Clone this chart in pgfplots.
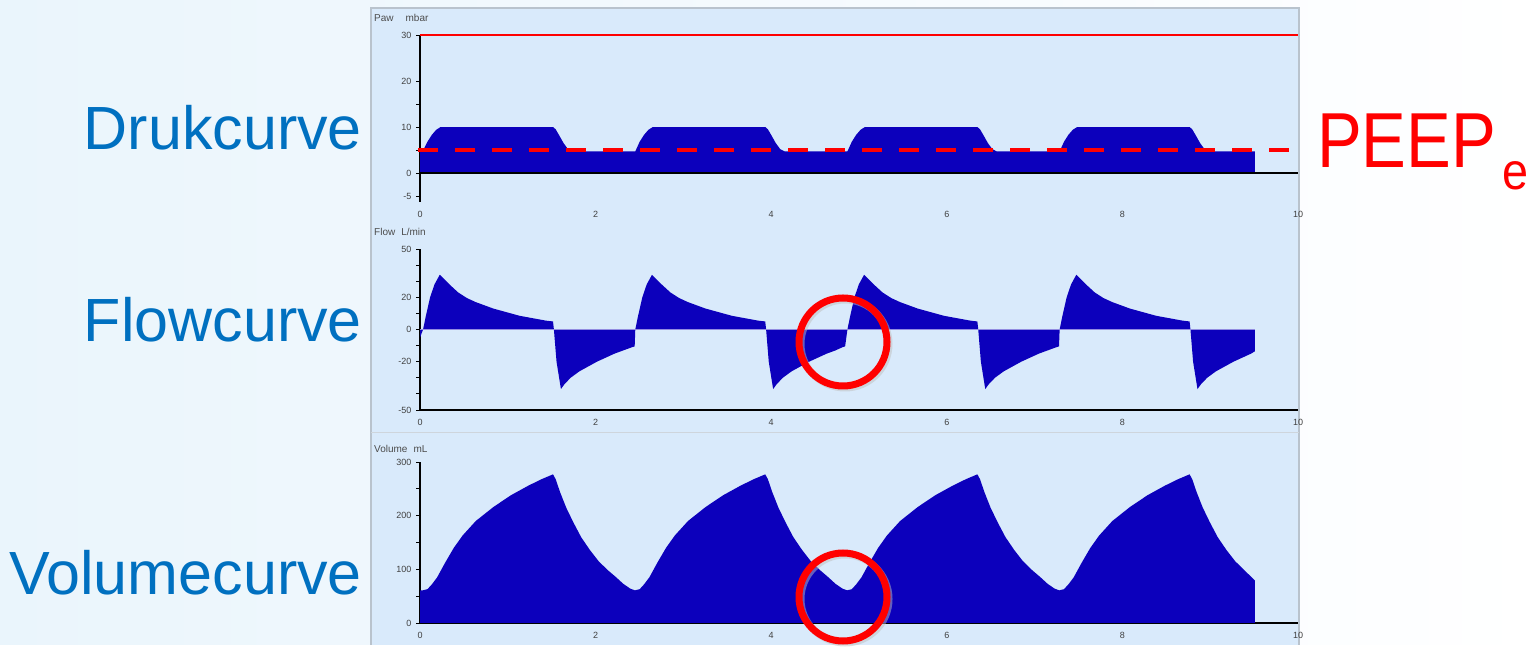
\documentclass[border=0pt]{standalone}
\usepackage{pgfplots}
\pgfplotsset{compat=1.18}
\usepackage{fontspec}
\setmainfont{Liberation Sans}
\definecolor{wave}{RGB}{12,0,188}
\definecolor{panel}{RGB}{217,234,251}
\definecolor{lbl}{RGB}{0,112,192}
\definecolor{bgl}{RGB}{234,245,252}
\definecolor{bdr}{RGB}{185,195,205}

\pgfplotstableread{
t p
0 4.8
0.035 4.9
0.085 6.8
0.135 8.3
0.185 9.4
0.235 10.0
1.515 10.0
1.545 9.5
1.585 8.2
1.635 6.5
1.685 5.2
1.735 4.7
2.452 4.7
2.502 6.8
2.552 8.3
2.602 9.4
2.652 10.0
3.932 10.0
3.962 9.5
4.002 8.2
4.052 6.5
4.102 5.2
4.152 4.7
4.868 4.7
4.918 6.8
4.968 8.3
5.018 9.4
5.068 10.0
6.348 10.0
6.378 9.5
6.418 8.2
6.468 6.5
6.518 5.2
6.568 4.7
7.285 4.7
7.335 6.8
7.385 8.3
7.435 9.4
7.485 10.0
8.765 10.0
8.795 9.5
8.835 8.2
8.885 6.5
8.935 5.2
8.985 4.7
9.510 4.7
}\pressure

\pgfplotstableread{
t f
0 -5
0.035 0
0.065 8
0.115 20
0.165 28
0.225 34
0.335 28
0.435 23
0.535 19.5
0.635 17
0.735 15
0.835 13
0.935 11.5
1.035 10
1.135 8.5
1.235 7.5
1.335 6.5
1.435 5.5
1.515 5
1.525 0
1.555 -20
1.605 -37
1.645 -34
1.715 -30
1.815 -26
1.915 -23
2.015 -20
2.115 -17.5
2.215 -15
2.315 -13
2.415 -11
2.445 -10.5
2.452 0
2.482 8
2.532 20
2.582 28
2.642 34
2.752 28
2.852 23
2.952 19.5
3.052 17
3.152 15
3.252 13
3.352 11.5
3.452 10
3.552 8.5
3.652 7.5
3.752 6.5
3.852 5.5
3.932 5
3.942 0
3.972 -20
4.022 -37
4.062 -34
4.132 -30
4.232 -26
4.332 -23
4.432 -20
4.532 -17.5
4.632 -15
4.732 -13
4.812 -11
4.842 -10.5
4.868 0
4.898 8
4.948 20
4.998 28
5.058 34
5.168 28
5.268 23
5.368 19.5
5.468 17
5.568 15
5.668 13
5.768 11.5
5.868 10
5.968 8.5
6.068 7.5
6.168 6.5
6.268 5.5
6.348 5
6.358 0
6.388 -20
6.438 -37
6.478 -34
6.548 -30
6.648 -26
6.748 -23
6.848 -20
6.948 -17.5
7.048 -15
7.148 -13
7.248 -11
7.278 -10.5
7.285 0
7.315 8
7.365 20
7.415 28
7.475 34
7.585 28
7.685 23
7.785 19.5
7.885 17
7.985 15
8.085 13
8.185 11.5
8.285 10
8.385 8.5
8.485 7.5
8.585 6.5
8.685 5.5
8.765 5
8.775 0
8.805 -20
8.855 -37
8.895 -34
8.965 -30
9.065 -26
9.165 -23
9.265 -20
9.365 -17.5
9.465 -15
9.510 -13.5
}\flow

\pgfplotstableread{
t v
0 61
0.035 61
0.085 63
0.135 72
0.195 85
0.285 112
0.385 140
0.485 163
0.635 190
0.835 216
1.035 238
1.235 256
1.385 268
1.515 277
1.545 268
1.595 244
1.665 215
1.745 188
1.835 160
1.935 136
2.035 115
2.135 99
2.235 85
2.315 73
2.395 64
2.445 61
2.452 61
2.502 63
2.552 72
2.612 85
2.702 112
2.802 140
2.902 163
3.052 190
3.252 216
3.452 238
3.652 256
3.802 268
3.932 277
3.962 268
4.012 244
4.082 215
4.162 188
4.252 160
4.352 136
4.452 115
4.552 99
4.652 85
4.732 73
4.812 64
4.862 61
4.868 61
4.918 63
4.968 72
5.028 85
5.118 112
5.218 140
5.318 163
5.468 190
5.668 216
5.868 238
6.068 256
6.218 268
6.348 277
6.378 268
6.428 244
6.498 215
6.578 188
6.668 160
6.768 136
6.868 115
6.968 99
7.068 85
7.148 73
7.228 64
7.278 61
7.285 61
7.335 63
7.385 72
7.445 85
7.535 112
7.635 140
7.735 163
7.885 190
8.085 216
8.285 238
8.485 256
8.635 268
8.765 277
8.795 268
8.845 244
8.915 215
8.995 188
9.085 160
9.185 136
9.285 115
9.385 99
9.510 79
}\volume

\pgfplotsset{
  vent/.style={
    scale only axis, width=878pt,
    xmin=0, xmax=10,
    xtick={0,2,4,6,8,10},
    axis lines*=left,
    axis line style={black, line width=1.6pt},
    xtick style={draw=none},
    ytick style={black, line width=0.8pt},
    tick align=outside,
    major tick length=4pt,
    tick label style={font=\fontsize{9}{10}\selectfont, text=black!75},
    /pgf/number format/assume math mode=true,
    xticklabel style={yshift=-2pt},
    yticklabel style={xshift=-1pt},
    clip=false,
  }
}

\begin{document}
\begin{tikzpicture}[x=1pt,y=1pt]
\shade[left color=bgl, right color=white] (0,0) rectangle (1538,645);
\fill[panel] (370,0) rectangle (1299,637);
\draw[bdr, line width=1.5pt] (371,0) -- (371,637) -- (1299,637) -- (1299,0);
\draw[bdr!70, line width=0.8pt] (371,213) -- (1299,213);

% left labels
\node[anchor=base east, text=lbl, font=\fontsize{61}{70}\selectfont, inner sep=0pt] at (362,495) {Drukcurve};
\node[anchor=base east, text=lbl, font=\fontsize{61}{70}\selectfont, inner sep=0pt] at (362,303) {Flowcurve};
\node[anchor=base east, text=lbl, font=\fontsize{61}{70}\selectfont, inner sep=0pt] at (362,50) {Volumecurve};

% panel titles
\node[anchor=west, text=black!70, font=\fontsize{10}{12}\selectfont, inner sep=0pt] at (374,627) {Paw\hspace{1.2em}mbar};
\node[anchor=west, text=black!70, font=\fontsize{10}{12}\selectfont, inner sep=0pt] at (374,413) {Flow\hspace{0.6em}L/min};
\node[anchor=west, text=black!70, font=\fontsize{10}{12}\selectfont, inner sep=0pt] at (374,196) {Volume\hspace{0.6em}mL};

% pressure
\begin{axis}[vent, at={(420pt,443pt)}, anchor=south west, height=167pt,
  ymin=-6.3, ymax=30,
  ytick={-5,0,5,10,15,20,30}, yticklabels={-5,0,,10,,20,30},
  x axis line style={draw=none}]
\addplot[fill=wave, draw=none] table[x=t,y=p] {\pressure} \closedcycle;
\addplot[black, line width=1.6pt] coordinates {(0,0) (10,0)};
\addplot[red, line width=2pt] coordinates {(0,30) (10,30)};
\addplot[red, line width=4pt, dash pattern=on 20pt off 17pt] coordinates {(-0.02,5) (9.99,5)};
\end{axis}

% flow
\begin{axis}[vent, at={(420pt,235pt)}, anchor=south west, height=161pt,
  ymin=-50, ymax=50,
  ytick={-50,-40,...,50}, yticklabels={-50,,,-20,,0,,20,,,50}]
\addplot[fill=wave, draw=none] table[x=t,y=f] {\flow} \closedcycle;
\addplot[wave!45, line width=0.8pt] coordinates {(0,0) (9.51,0)};
\end{axis}

% volume
\begin{axis}[vent, at={(420pt,22pt)}, anchor=south west, height=161pt,
  ymin=0, ymax=300,
  ytick={0,50,...,300}, yticklabels={0,,100,,200,,300}]
\addplot[fill=wave, draw=none] table[x=t,y=v] {\volume} \closedcycle;
\end{axis}

% PEEP label
\node[anchor=base west, text=red, font=\fontsize{78}{80}\selectfont, xscale=0.86, inner sep=0pt] (peep) at (1317,477) {PEEP};
\node[anchor=base west, text=red, font=\fontsize{52}{54}\selectfont, xscale=0.9, inner sep=0pt] at (1502,455) {e};

% circles
\draw[black!25, line width=7pt, opacity=0.5] (845,301) circle (44);
\draw[red, line width=7pt] (843,303) circle (44);
\draw[black!25, line width=7pt, opacity=0.5] (845,46) circle (44);
\draw[red, line width=7pt] (843,48) circle (44);
\end{tikzpicture}
\end{document}
